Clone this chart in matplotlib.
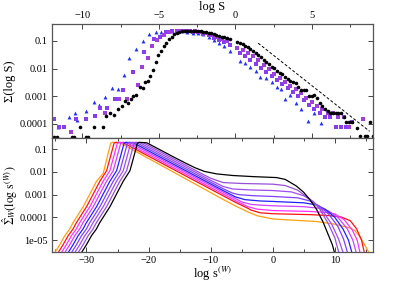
import numpy as np
import matplotlib
matplotlib.use("Agg")
import matplotlib.pyplot as plt
from matplotlib.ticker import FixedLocator, NullLocator, MultipleLocator

plt.rcParams['font.family'] = ['Liberation Serif', 'DejaVu Serif']
plt.rcParams['mathtext.fontset'] = 'stix'

# ---------------- top panel data (log S, log10 Sigma) ----------------
blk_x = [-11.83, -11.68, -10.70, -10.55, -10.15, -9.76, -9.61, -9.22, -8.65, -8.48, -8.20, -7.94, -7.68,
         -7.44, -7.24, -7.03, -6.85, -6.67, -6.50, -6.24, -6.07, -5.89, -5.72,
         -5.55, -5.37, -5.20, -5.03, -4.86, -4.69, -4.52, -4.34, -4.17, -4.00, -3.83, -3.66, -3.49, -3.31,
         -3.14, -2.97, -2.80, -2.63, -2.46, -2.28, -2.11, -1.94, -1.76, -1.59, -1.42, -1.24, -1.07, -0.90,
         -0.72, -0.55, -0.38,
         0.11, 0.28, 0.46, 0.63, 0.81, 0.98, 1.15, 1.33, 1.50, 1.68, 1.85, 2.02, 2.20, 2.37, 2.54, 2.72,
         2.89, 3.07, 3.24, 3.41, 3.59, 3.76, 3.93, 4.11, 4.28, 4.46, 4.63, 4.80, 4.98, 5.15, 5.32, 5.50,
         5.67, 5.84, 6.02, 6.19, 6.37, 6.54, 6.71, 6.89, 7.06, 7.23, 7.41, 7.58, 7.93, 8.10, 8.45, 8.62,
         8.76, 8.97]
blk_ly = [-4.47, -4.47, -4.47, -4.47, -4.13, -4.47, -4.47, -4.13, -4.13, -3.73, -3.61, -3.67, -3.47,
          -3.35, -3.19, -3.25, -3.10, -3.01, -2.95, -2.67, -2.70, -2.50, -2.45,
          -2.26, -2.05, -1.75, -1.50, -1.35, -1.20, -1.06, -0.94, -0.86, -0.76, -0.70, -0.66, -0.64, -0.63,
          -0.63, -0.63, -0.64, -0.64, -0.65, -0.65, -0.66, -0.68, -0.70, -0.72, -0.75, -0.78, -0.81, -0.84,
          -0.87, -0.90, -0.93,
          -1.05, -1.08, -1.12, -1.17, -1.22, -1.30, -1.36, -1.44, -1.52, -1.59, -1.69, -1.78, -1.84, -1.93,
          -1.99, -2.08, -2.17, -2.19, -2.32, -2.38, -2.44, -2.48, -2.53, -2.67, -2.77, -2.79, -2.79, -3.01,
          -3.01, -2.95, -3.08, -3.23, -3.35, -3.47, -3.53, -3.59, -3.61, -3.61, -3.61, -3.61, -3.75, -3.95,
          -3.95, -3.95, -4.15, -4.45, -4.45, -4.45, -3.95, -4.45]

pa_x = [-10.74, -8.50, -7.59, -7.11, -6.39, -6.09, -5.70, -5.48, -5.10, -4.70, -4.35, -3.66, -3.31,
        -2.97, -2.63, -2.28, -1.94, -1.59, -1.24, -0.90, -0.55, 0.11, 0.46, 0.81, 1.15, 1.50, 1.85, 2.20,
        2.54, 2.89, 3.24, 3.59, 3.93, 4.28, 4.63, 4.98, 5.32, 5.67, 6.02, 6.37, 6.71, 7.06, 7.41, 8.33]
pa_ly = [-4.30, -3.60, -3.10, -3.10, -2.59, -1.95, -1.60, -1.20, -0.95, -0.78, -0.68, -0.64, -0.63,
         -0.63, -0.65, -0.67, -0.72, -0.78, -0.86, -0.93, -1.00, -1.25, -1.33, -1.42, -1.55, -1.70, -1.86,
         -2.03, -2.18, -2.33, -2.50, -2.62, -2.74, -2.90, -3.05, -3.20, -3.35, -3.45, -3.60, -3.60, -3.75,
         -3.75, -4.12, -3.81]

pb_x = [-11.83, -11.50, -11.18, -10.41, -9.74, -9.18, -8.85, -8.41, -7.87, -7.37, -6.67, -5.96, -5.30,
        -4.94, -4.54, -4.17, -3.83, -3.49, -3.14, -2.80, -2.46, -2.11, -1.76, -1.42, -1.07, -0.72, -0.38,
        0.28, 0.63, 0.98, 1.33, 1.68, 2.02, 2.37, 2.72, 3.07, 3.41, 3.76, 4.11, 4.46, 4.80, 5.15, 5.50,
        5.84, 6.19, 6.54, 6.89, 7.23, 7.58]
pb_ly = [-3.82, -4.13, -4.13, -3.83, -3.83, -3.73, -3.43, -3.43, -3.10, -2.79, -2.11, -1.41, -0.94,
         -0.86, -0.66, -0.64, -0.64, -0.64, -0.65, -0.66, -0.69, -0.74, -0.80, -0.88, -0.96, -1.05, -1.15,
         -1.45, -1.55, -1.70, -1.84, -1.98, -2.12, -2.27, -2.42, -2.55, -2.70, -2.85, -3.00, -3.12, -3.30,
         -3.45, -3.60, -3.75, -3.75, -4.12, -4.12, -4.12, -3.95]

blu_x = [-11.60, -10.90, -10.46, -10.33, -9.76, -9.26, -8.90, -8.52, -8.09, -7.70, -7.26, -6.98, -6.48,
         -6.07, -5.65, -5.22, -4.87, -4.52, -4.17, -3.83, -3.49, -3.14, -2.80, -2.46, -2.11, -1.76, -1.42,
         -1.07, -0.72, -0.38, 0.28, 0.63, 0.98, 1.33, 1.59, 2.02, 2.37, 2.72, 3.00, 3.22, 3.59, 3.93, 4.28,
         4.74, 5.15, 5.61]
blu_ly = [-4.10, -3.75, -3.59, -3.86, -3.54, -3.21, -3.30, -3.03, -2.69, -2.75, -2.23, -1.63, -1.30,
          -1.02, -0.76, -0.69, -0.66, -0.64, -0.64, -0.64, -0.65, -0.66, -0.70, -0.70, -0.76, -0.85, -0.95,
          -1.08, -1.20, -1.38, -1.72, -1.80, -1.95, -2.10, -2.29, -2.35, -2.50, -2.65, -2.74, -3.10, -2.95,
          -3.25, -3.45, -3.91, -3.60, -3.97]

guide_x = [1.48, 8.76]
guide_ly = [-1.08, -4.27]

top_xticks = [-10, -5, 0, 5]
top_yticks = [0.1, 0.01, 0.001, 0.0001]
top_ylabels = ['0.1', '0.01', '0.001', '0.0001']

# ---------------- bottom panel data (log s^(W), log10 Sigma_W) ----------------
w0_x = [-30.8, -30.0, -29.2, -28.4, -27.9, -26.2, -24.1, -23.0, -22.2, -21.8, -21.5, -20.3,
        -18.0, -16.0, -14.0, -12.5, -11.0, -9.0, -6.4, -3.0, 0.6, 2.0, 3.8, 5.0, 6.0, 7.0, 8.1, 9.0, 9.6, 10.0]
w0_ly = [-5.55, -5.20, -4.81, -4.51, -4.25, -3.52, -2.42, -1.95, -1.15, -0.74, -0.70, -0.72,
         -1.05, -1.34, -1.62, -1.82, -1.98, -2.09, -2.16, -2.21, -2.25, -2.33, -2.62, -2.90, -3.23, -3.62,
         -4.20, -4.80, -5.20, -5.60]
w1_x = [-31.34, -30.54, -29.74, -28.94, -28.44, -26.74, -24.64, -23.54, -22.74, -22.34, -22.04, -20.84,
        -18.0, -16.0, -14.0, -12.0, -10.0, -8.0, -5.0, 0.0, 2.0, 4.0, 6.0, 7.5, 9.0, 10.0, 10.7]
w1_ly = [-5.55, -5.20, -4.81, -4.51, -4.25, -3.52, -2.42, -1.95, -1.15, -0.74, -0.70, -0.72,
         -1.13, -1.42, -1.71, -2.00, -2.28, -2.47, -2.51, -2.54, -2.60, -2.80, -3.20, -3.60, -4.30, -4.90, -5.60]
w2_x = [-31.88, -31.08, -30.28, -29.48, -28.98, -27.28, -25.18, -24.08, -23.28, -22.88, -22.58, -21.38,
        -18.0, -16.0, -14.0, -12.0, -10.0, -8.0, -6.5, -4.0, 0.0, 3.0, 5.0, 6.5, 8.0, 9.5, 10.6, 11.4]
w2_ly = [-5.55, -5.20, -4.81, -4.51, -4.25, -3.52, -2.42, -1.95, -1.15, -0.74, -0.70, -0.72,
         -1.21, -1.50, -1.79, -2.08, -2.37, -2.64, -2.75, -2.79, -2.82, -2.88, -3.05, -3.30, -3.70, -4.30,
         -4.95, -5.60]
w3_x = [-32.41, -31.61, -30.81, -30.01, -29.51, -27.81, -25.71, -24.61, -23.81, -23.41, -23.11, -21.91,
        -18.0, -16.0, -14.0, -12.0, -10.0, -8.0, -6.5, -5.5, -3.0, 0.0, 4.0, 6.0, 7.5, 9.0, 10.5, 11.4, 12.1]
w3_ly = [-5.55, -5.20, -4.81, -4.51, -4.25, -3.52, -2.42, -1.95, -1.15, -0.74, -0.70, -0.72,
         -1.29, -1.58, -1.87, -2.16, -2.45, -2.74, -2.93, -3.00, -3.05, -3.08, -3.14, -3.28, -3.50, -3.85,
         -4.40, -4.95, -5.60]
w4_x = [-32.95, -32.15, -31.35, -30.55, -30.05, -28.35, -26.25, -25.15, -24.35, -23.95, -23.65, -22.45,
        -18.0, -16.0, -14.0, -12.0, -10.0, -8.0, -6.0, -4.5, -2.0, 0.0, 5.0, 7.0, 8.5, 10.0, 11.3, 12.2, 12.8]
w4_ly = [-5.55, -5.20, -4.81, -4.51, -4.25, -3.52, -2.42, -1.95, -1.15, -0.74, -0.70, -0.72,
         -1.37, -1.66, -1.95, -2.24, -2.53, -2.82, -3.10, -3.22, -3.28, -3.30, -3.36, -3.45, -3.65, -4.00,
         -4.50, -5.00, -5.60]
w5_x = [-33.49, -32.69, -31.89, -31.09, -30.59, -28.89, -26.79, -25.69, -24.89, -24.49, -24.19, -22.99,
        -18.0, -16.0, -14.0, -12.0, -10.0, -8.0, -6.0, -5.0, -3.5, -1.5, 0.0, 5.0, 7.5, 9.0, 10.5, 12.0,
        12.9, 13.5]
w5_ly = [-5.55, -5.20, -4.81, -4.51, -4.25, -3.52, -2.42, -1.95, -1.15, -0.74, -0.70, -0.72,
         -1.44, -1.73, -2.02, -2.31, -2.60, -2.89, -3.17, -3.32, -3.43, -3.47, -3.49, -3.53, -3.60, -3.72,
         -4.00, -4.50, -5.00, -5.60]
w6_x = [-34.03, -33.23, -32.43, -31.63, -31.13, -29.43, -27.33, -26.23, -25.43, -25.03, -24.73, -23.53,
        -18.0, -16.0, -14.0, -12.0, -10.0, -8.0, -6.0, -4.0, -2.5, 0.0, 6.0, 8.5, 10.0, 11.5, 12.8, 13.6, 14.1]
w6_ly = [-5.55, -5.20, -4.81, -4.51, -4.25, -3.52, -2.42, -1.95, -1.15, -0.74, -0.70, -0.72,
         -1.52, -1.81, -2.10, -2.39, -2.68, -2.97, -3.26, -3.53, -3.64, -3.70, -3.74, -3.78, -3.85, -4.10,
         -4.55, -5.00, -5.60]
w7_x = [-34.56, -33.76, -32.96, -32.16, -31.66, -29.96, -27.86, -26.76, -25.96, -25.56, -25.26, -24.06,
        -18.0, -16.0, -14.0, -12.0, -10.0, -8.0, -6.0, -4.0, -3.5, -2.0, 0.0, 6.0, 9.0, 11.0, 12.5, 13.5,
        14.3, 14.8]
w7_ly = [-5.55, -5.20, -4.81, -4.51, -4.25, -3.52, -2.42, -1.95, -1.15, -0.74, -0.70, -0.72,
         -1.60, -1.89, -2.18, -2.47, -2.76, -3.05, -3.34, -3.60, -3.68, -3.80, -3.84, -3.88, -3.92, -3.98,
         -4.15, -4.50, -5.00, -5.60]
w8_x = [-35.1, -34.3, -33.5, -32.7, -32.2, -30.5, -28.4, -27.3, -26.5, -26.1, -25.8, -24.6,
        -20.0, -18.0, -16.0, -14.0, -12.0, -10.0, -8.0, -6.0, -4.0, -2.5, 0.0, 3.0, 7.0, 10.0, 11.8, 12.6,
        13.3, 14.0, 14.8, 15.6]
w8_ly = [-5.55, -5.20, -4.81, -4.51, -4.25, -3.52, -2.42, -2.06, -1.18, -0.74, -0.70, -0.72,
         -1.41, -1.71, -2.01, -2.31, -2.61, -2.91, -3.21, -3.50, -3.76, -3.93, -4.07, -4.12, -4.18, -4.30,
         -4.42, -4.48, -4.60, -4.84, -5.20, -5.60]

w_colors = ['black', '#9a4fd6', '#a14cf0', '#8040ff', '#2020ff', '#d040ff', '#ff30ff', '#ff1010', '#ffa010']

bot_xticks = [-30, -20, -10, 0, 10]
bot_yticks = [0.1, 0.01, 0.001, 0.0001, 1e-05]
bot_ylabels = ['0.1', '0.01', '0.001', '0.0001', '1e-05']

# ---------------- figure ----------------
fig = plt.figure(figsize=(3.99, 2.82), dpi=100)
ax1 = fig.add_axes([0.1296, 0.5096, 0.8060, 0.4042])
ax2 = fig.add_axes([0.1296, 0.1064, 0.8060, 0.4032])

tk = dict(direction='in', labelsize=7.5, width=0.7, color='#444444', pad=3)

ax1.plot(blu_x, np.power(10.0, blu_ly), linestyle='none', marker='^', ms=2.8, color='#2030ff', mew=0)
ax1.plot(pb_x, np.power(10.0, pb_ly), linestyle='none', marker='s', ms=2.2, color='#8a3cf0', mew=0)
ax1.plot(pa_x, np.power(10.0, pa_ly), linestyle='none', marker='s', ms=2.2, color='#a040d8', mew=0)
ax1.plot(blk_x, np.power(10.0, blk_ly), linestyle='none', marker='o', ms=2.6, color='black', mew=0)
ax1.plot(guide_x, np.power(10.0, guide_ly), linestyle=(0, (3, 2)), color='black', lw=0.7)
ax1.set_yscale('log')
ax1.set_xlim(-12, 9)
ax1.set_ylim(3e-5, 0.4)
ax1.xaxis.set_major_locator(FixedLocator(top_xticks))
ax1.xaxis.set_minor_locator(MultipleLocator(2.5))
ax1.yaxis.set_major_locator(FixedLocator(top_yticks))
ax1.set_yticklabels(top_ylabels)
ax1.yaxis.set_minor_locator(NullLocator())
ax1.tick_params(axis='both', which='major', length=3.5, top=True, bottom=True, left=True, right=True,
                labeltop=True, labelbottom=False, **tk)
ax1.tick_params(axis='both', which='minor', length=2, top=True, bottom=True, direction='in',
                width=0.7, color='#444444')
ax1.set_xlabel('log S', fontsize=9, labelpad=1)
ax1.xaxis.set_label_position('top')
ax1.set_ylabel('Σ(log S)', fontsize=9, labelpad=3)

for xs, ls, c in zip([w8_x, w7_x, w6_x, w5_x, w4_x, w3_x, w2_x, w1_x, w0_x],
                     [w8_ly, w7_ly, w6_ly, w5_ly, w4_ly, w3_ly, w2_ly, w1_ly, w0_ly],
                     w_colors[::-1]):
    ax2.plot(xs, np.power(10.0, ls), color=c, lw=0.9)
ax2.set_yscale('log')
ax2.set_xlim(-35.6, 16.2)
ax2.set_ylim(3e-6, 0.3)
ax2.xaxis.set_major_locator(FixedLocator(bot_xticks))
ax2.xaxis.set_minor_locator(MultipleLocator(5))
ax2.yaxis.set_major_locator(FixedLocator(bot_yticks))
ax2.set_yticklabels(bot_ylabels)
ax2.yaxis.set_minor_locator(NullLocator())
ax2.tick_params(axis='both', which='major', length=3.5, top=True, bottom=True, left=True, right=True, **tk)
ax2.tick_params(axis='both', which='minor', length=2, top=True, bottom=True, direction='in',
                width=0.7, color='#444444')
ax2.set_xlabel(r'log s$^{(W)}$', fontsize=9, labelpad=0)
ax2.set_ylabel(r'$\hat{\Sigma}_{W}(\mathrm{log\ s}^{(W)})$', fontsize=8.5, labelpad=0)
ax2.yaxis.set_label_coords(-0.100, 0.5)
ax1.yaxis.set_label_coords(-0.112, 0.5)

for ax in (ax1, ax2):
    for s in ax.spines.values():
        s.set_linewidth(0.9)
        s.set_color('#555555')

fig.savefig('out.png', dpi=100)
